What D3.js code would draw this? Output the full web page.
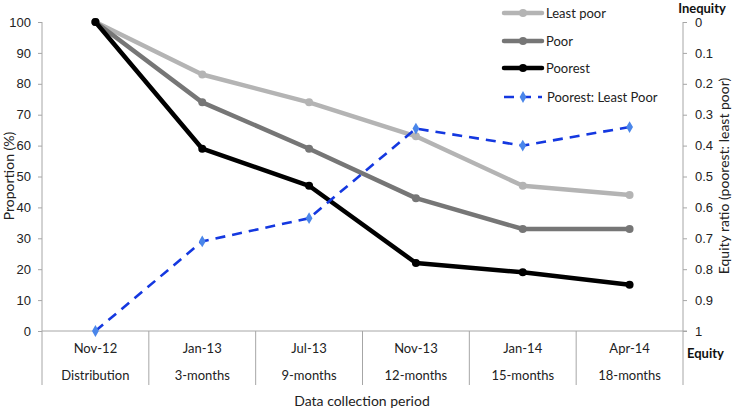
<!DOCTYPE html>
<html><head><meta charset="utf-8">
<script src="https://cdn.jsdelivr.net/npm/d3@7"></script>
<style>body{margin:0;background:#fff;} svg{display:block;font-family:Lato, "Open Sans", sans-serif;}</style>
</head><body><svg id="c" width="737" height="410"></svg>
<script>
const dates = ["Nov-12","Jan-13","Jul-13","Nov-13","Jan-14","Apr-14"];
const periods = ["Distribution","3-months","9-months","12-months","15-months","18-months"];
const leastPoor = [100,83,74,63,47,44];
const poor = [100,74,59,43,33,33];
const poorest = [100,59,47,22,19,15];
const ratio = [1,0.71,0.635,0.345,0.40,0.34];
const leftTicks = [0,10,20,30,40,50,60,70,80,90,100];
const rightTicks = [0,0.1,0.2,0.3,0.4,0.5,0.6,0.7,0.8,0.9,1];
const seriesNames = ["Least poor","Poor","Poorest","Poorest: Least Poor"];

const svg = d3.select("#c");
const L = 42, R = 683, T = 22, B = 331;
const x = d3.scaleBand().domain(dates).range([L,R]);
const y = d3.scaleLinear().domain([0,100]).range([B,T]);
const y2 = d3.scaleLinear().domain([0,1]).range([T,B]);
const axisCol = "#a6a6a6";
const fs = "13px";

// left axis
const ga = svg.append("g").attr("transform",`translate(${L},0)`).call(d3.axisLeft(y).tickValues(leftTicks).tickSize(4).tickSizeOuter(0));
ga.select(".domain").remove();
ga.selectAll("line").attr("stroke",axisCol);
ga.selectAll("text").attr("font-size",fs).attr("fill","#222").attr("x",-11).style("font-family","inherit");
svg.append("line").attr("x1",L).attr("x2",L).attr("y1",T).attr("y2",385).attr("stroke",axisCol);

// right axis
const gr = svg.append("g").attr("transform",`translate(${R},0)`).call(d3.axisRight(y2).tickValues(rightTicks).tickFormat(d=>d3.format("")(d)).tickSize(4).tickSizeOuter(0));
gr.select(".domain").remove();
gr.selectAll("line").attr("stroke",axisCol);
gr.selectAll("text").attr("font-size",fs).attr("fill","#222").attr("x",12).style("font-family","inherit");
svg.append("line").attr("x1",R).attr("x2",R).attr("y1",T).attr("y2",385).attr("stroke",axisCol);

// category axis
svg.append("line").attr("x1",L).attr("x2",R+4).attr("y1",B).attr("y2",B).attr("stroke",axisCol);
dates.forEach((d,i)=>{
  if(i>0) svg.append("line").attr("x1",x(d)).attr("x2",x(d)).attr("y1",B).attr("y2",385).attr("stroke",axisCol);
  const cx = x(d)+x.bandwidth()/2;
  svg.append("text").attr("x",cx).attr("y",353).attr("text-anchor","middle").attr("font-size",fs).attr("fill","#222").text(d);
  svg.append("text").attr("x",cx).attr("y",380).attr("text-anchor","middle").attr("font-size",fs).attr("fill","#222").text(periods[i]);
});

// titles
svg.append("text").attr("x",362).attr("y",406).attr("text-anchor","middle").attr("font-size","14px").attr("fill","#222").text("Data collection period");
svg.append("text").attr("transform","translate(14,176) rotate(-90)").attr("text-anchor","middle").attr("font-size","14px").attr("fill","#222").text("Proportion (%)");
svg.append("text").attr("transform","translate(729,176) rotate(-90)").attr("text-anchor","middle").attr("font-size","14px").attr("fill","#222").text("Equity ratio (poorest: least poor)");
svg.append("text").attr("x",702).attr("y",13).attr("text-anchor","middle").attr("font-size","13px").attr("font-weight","bold").attr("fill","#111").text("Inequity");
svg.append("text").attr("x",687).attr("y",358).attr("font-size","13px").attr("font-weight","bold").attr("fill","#111").text("Equity");

const cxf = (i)=> x(dates[i])+x.bandwidth()/2;
const grayLines = [
  {vals:leastPoor, col:"#b4b4b4"},
  {vals:poor, col:"#767676"},
  {vals:poorest, col:"#000000"}
];
const line = d3.line().x((d,i)=>cxf(i)).y(d=>y(d));
grayLines.forEach(s=>{
  svg.append("path").attr("d",line(s.vals)).attr("fill","none").attr("stroke",s.col).attr("stroke-width",4.5).attr("stroke-linejoin","round");
  svg.selectAll(null).data(s.vals).enter().append("circle").attr("cx",(d,i)=>cxf(i)).attr("cy",d=>y(d)).attr("r",4).attr("fill",s.col);
});
const line2 = d3.line().x((d,i)=>cxf(i)).y(d=>y2(d));
svg.append("path").attr("d",line2(ratio)).attr("fill","none").attr("stroke","#1438e0").attr("stroke-width",2.6).attr("stroke-dasharray","10,7");
const diamond = d3.symbol().type(d3.symbolDiamond).size(40);
svg.selectAll(null).data(ratio).enter().append("path").attr("d",diamond).attr("transform",(d,i)=>`translate(${cxf(i)},${y2(d)})`).attr("fill","#4a86ea");

// legend
const legY = [13,41,68,97];
const legCols = ["#b4b4b4","#767676","#000000"];
seriesNames.forEach((n,i)=>{
  const g = svg.append("g");
  if(i<3){
    g.append("line").attr("x1",504).attr("x2",542).attr("y1",legY[i]).attr("y2",legY[i]).attr("stroke",legCols[i]).attr("stroke-width",4.5).attr("stroke-linecap","round");
    g.append("circle").attr("cx",523).attr("cy",legY[i]).attr("r",4).attr("fill",legCols[i]);
  } else {
    g.append("line").attr("x1",504).attr("x2",542).attr("y1",legY[i]).attr("y2",legY[i]).attr("stroke","#1438e0").attr("stroke-width",2.6).attr("stroke-dasharray","10,7");
    g.append("path").attr("d",diamond).attr("transform",`translate(523,${legY[i]})`).attr("fill","#4a86ea");
  }
  g.append("text").attr("x",i<3?546:547).attr("y",legY[i]+4.5).attr("font-size",fs).attr("fill","#222").text(n);
});
</script></body></html>
